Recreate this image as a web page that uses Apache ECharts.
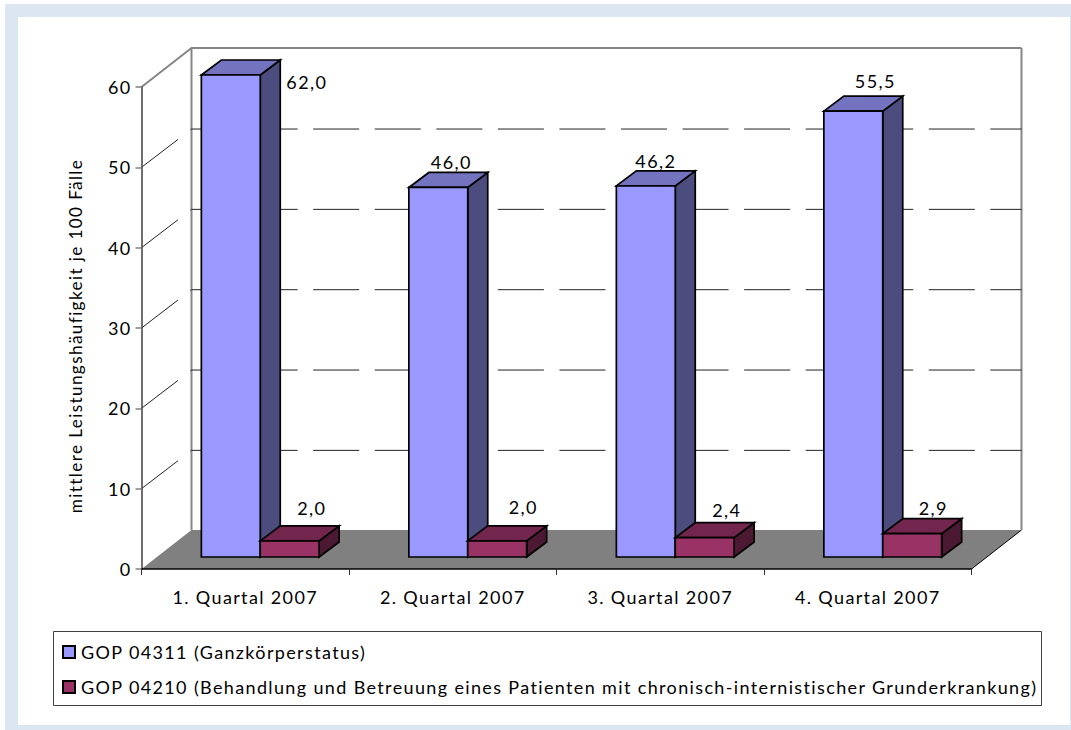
<!DOCTYPE html>
<html><head><meta charset="utf-8">
<style>html,body{margin:0;padding:0;background:#fff}#c{width:1071px;height:730px}#c text{letter-spacing:1.36px}</style>
<script src="https://cdn.jsdelivr.net/npm/echarts@6/dist/echarts.min.js"></script>
</head><body><div id="c"></div>
<script>
const categories = ['1. Quartal 2007','2. Quartal 2007','3. Quartal 2007','4. Quartal 2007'];
const gop04311 = [62.0,46.0,46.2,55.5];
const gop04210 = [2.0,2.0,2.4,2.9];
const valueLabels04311 = ['62,0','46,0','46,2','55,5'];
const valueLabels04210 = ['2,0','2,0','2,4','2,9'];
const wallTicks = [0,10,20,30,40,50,60];
const seriesNames = ['GOP 04311 (Ganzkörperstatus)','GOP 04210 (Behandlung und Betreuung eines Patienten mit chronisch-internistischer Grunderkrankung)'];
const yTitle = 'mittlere Leistungshäufigkeit je 100 Fälle';

const FONT = 'Lato';
const FS = 18;
const yMax = 60;
const WALL = {dx:50, dy:39};
const BAR = {dx:20, dy:15, w:58.9};
const OFFS = {dx:15, dy:12};
const shifts1 = [[76,7],[13,-25],[10,-25],[22,-30]];
const shifts2 = [[22,-33],[26,-34],[22,-28],[21,-26]];

function poly(points, fill, stroke, lw){
  return {type:'polygon', shape:{points}, style:{fill, stroke:stroke||null, lineWidth:lw||0}};
}
function line(points, stroke, lw, dash){
  return {type:'polyline', shape:{points}, style:{fill:null, stroke, lineWidth:lw, lineDash:dash||null}};
}
function barItem(colors, side, labels, shifts){
  return function(params, api){
    const i = api.value(0), v = api.value(1);
    const top = api.coord([i, Math.min(v, yMax)]);
    const base = api.coord([i, 0]);
    const w = BAR.w, dx = BAR.dx, dy = BAR.dy;
    const x0 = base[0] + OFFS.dx + (side < 0 ? -w : 0), x1 = x0 + w;
    const yb = base[1] - OFFS.dy, yt = top[1] - OFFS.dy;
    const k = '#000', lw = 1.7;
    return {type:'group', children:[
      poly([[x1,yt],[x1+dx,yt-dy],[x1+dx,yb-dy],[x1,yb]], colors[2], k, lw),
      poly([[x0,yt],[x0+dx,yt-dy],[x1+dx,yt-dy],[x1,yt]], colors[1], k, lw),
      poly([[x0,yt],[x1,yt],[x1,yb],[x0,yb]], colors[0], k, lw),
      {type:'text', z2:50, style:{text:labels[i], x:(x0+x1)/2+shifts[i][0], y:yt+shifts[i][1],
        align:'center', verticalAlign:'middle', font:FS+'px '+FONT, fill:'#000'}}
    ]};
  };
}
function wallItem(params, api){
  const v = api.value(1);
  const cs = params.coordSys;
  const xl = cs.x, xr = cs.x+cs.width;
  const y = api.coord([0,v])[1];
  const D = WALL;
  const gray = '#868686';
  if (v === 0){
    return {type:'group', children:[
      poly([[xl,y],[xl+D.dx,y-D.dy],[xr+D.dx,y-D.dy],[xr,y]], '#808080'),
      line([[xr,y],[xr+D.dx,y-D.dy]], '#000', 1),
      line([[xl+D.dx,y-D.dy],[xl+D.dx,cs.y-D.dy]], gray, 2),
      line([[xr+D.dx,y-D.dy],[xr+D.dx,cs.y-D.dy]], gray, 2)
    ]};
  }
  if (v === yMax){
    return line([[xl,y],[xl+D.dx,y-D.dy],[xr+D.dx,y-D.dy]], gray, 2);
  }
  const by = y - D.dy + 0.7;
  return line([[xl,y],[xl+D.dx,by],[xr+D.dx,by]], '#222', 1, [46,15.56]);
}

const chart = echarts.init(document.getElementById('c'), null, {renderer:'svg'});
chart.setOption({
  animation:false,
  backgroundColor:'#fff',
  grid:{left:141.5, top:87, width:830, height:482, containLabel:false},
  graphic:[
    {type:'rect', z:-10, shape:{x:5,y:4,width:1066,height:726}, style:{fill:'#dce6f1'}},
    {type:'rect', z:-9, shape:{x:18,y:17,width:1052,height:708}, style:{fill:'#fff'}},
    {type:'rect', z:-8, shape:{x:53.5,y:631.5,width:988,height:74}, style:{fill:'#fff',stroke:'#404040',lineWidth:1}}
  ],
  legend:{
    orient:'vertical', left:52, top:643, padding:[0,0,0,10], itemGap:17,
    itemWidth:12, itemHeight:12, icon:'rect', selectedMode:false,
    data:seriesNames,
    textStyle:{fontFamily:FONT, fontSize:FS, color:'#000', padding:[0,0,0,1]}
  },
  xAxis:{type:'category', data:categories, z:5,
    axisLine:{lineStyle:{color:'#000',width:1.5}},
    axisTick:{show:true, length:6, lineStyle:{color:'#333'}},
    axisLabel:{margin:19, color:'#000', fontFamily:FONT, fontSize:FS},
    splitLine:{show:false}},
  yAxis:{type:'value', min:0, max:yMax, interval:10, z:5,
    name:yTitle, nameLocation:'middle', nameRotate:90, nameGap:58,
    nameTextStyle:{fontFamily:FONT, fontSize:17.2, color:'#000', padding:[0,16,0,0]},
    axisLine:{show:true, lineStyle:{color:'#404040',width:1.5}},
    axisTick:{show:true, length:6, lineStyle:{color:'#808080',width:1.5}},
    axisLabel:{margin:10, color:'#000', fontFamily:FONT, fontSize:FS},
    splitLine:{show:false}},
  series:[
    {type:'custom', name:'Wände', z:1, renderItem:wallItem, silent:true,
     data:wallTicks.map(t=>[0,t]), encode:{x:0,y:1}},
    {type:'custom', name:seriesNames[0], z:2, itemStyle:{color:'#9999ff',borderColor:'#000',borderWidth:1.5},
     renderItem:barItem(['#9999ff','#7373bf','#4c4c7f'],-1,valueLabels04311,shifts1),
     data:gop04311.map((v,i)=>[i,v]), encode:{x:0,y:1}},
    {type:'custom', name:seriesNames[1], z:3, itemStyle:{color:'#993366',borderColor:'#000',borderWidth:1.5},
     renderItem:barItem(['#993366','#73264d','#4c1933'],1,valueLabels04210,shifts2),
     data:gop04210.map((v,i)=>[i,v]), encode:{x:0,y:1}}
  ]
});
</script></body></html>
